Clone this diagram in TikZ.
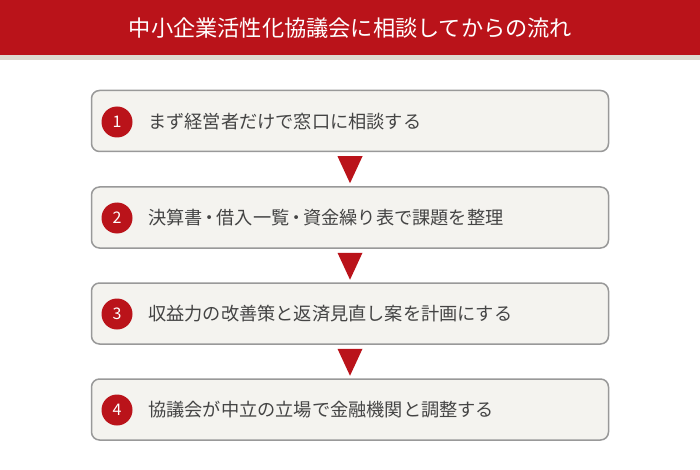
\documentclass[tikz,border=0pt]{standalone}
\usepackage{fontspec}
\setmainfont{Noto Sans CJK JP}
\usetikzlibrary{calc}
\definecolor{hdrred}{HTML}{BA131A}
\definecolor{hdrgray}{HTML}{DEDAD0}
\definecolor{boxfill}{HTML}{F4F3EF}
\definecolor{boxline}{HTML}{999999}
\definecolor{txtgray}{HTML}{444444}
\newcommand{\nd}{\hspace{-0.12em}・\hspace{-0.12em}}
\tikzset{
  stepbox/.style={draw=boxline, line width=1.5pt, fill=boxfill, rounded corners=8pt, minimum width=517pt, minimum height=61pt, inner sep=0pt},
  numdot/.style={circle, fill=hdrred, minimum size=31pt, inner sep=0pt, text=white, font=\fontsize{16}{16}\selectfont},
  steptext/.style={anchor=west, text=txtgray, font=\fontsize{18.2}{20}\selectfont, inner sep=0pt},
  tri/.style={fill=hdrred, draw=none}
}
\begin{document}
\begin{tikzpicture}[x=1pt,y=-1pt]
\useasboundingbox (0,0) rectangle (700,470);
\fill[white] (0,0) rectangle (700,470);
\fill[hdrred] (0,0) rectangle (700,55);
\fill[hdrgray] (0,55) rectangle (700,60.5);
\node[text=white, font=\fontsize{22.2}{24}\selectfont, inner sep=0pt] (title) at (350.5,28) {中小企業活性化協議会に相談してからの流れ};
\node[stepbox] (b1) at (350,121) {};
\node[stepbox] (b2) at (350,217.5) {};
\node[stepbox] (b3) at (350,313.5) {};
\node[stepbox] (b4) at (350,409.5) {};
\node[numdot] (n1) at (117,122) {1};
\node[numdot] (n2) at (117,218) {2};
\node[numdot] (n3) at (117,314) {3};
\node[numdot] (n4) at (117,410) {4};
\node[steptext] (t1) at (148,122) {まず経営者だけで窓口に相談する};
\node[steptext] (t2) at (148,218) {決算書\nd 借入一覧\nd 資金繰り表で課題を整理};
\node[steptext] (t3) at (148,314) {収益力の改善策と返済見直し案を計画にする};
\node[steptext] (t4) at (148,410) {協議会が中立の立場で金融機関と調整する};
\foreach \a/\b in {b1/b2,b2/b3,b3/b4}{
  \fill[tri] ($(\a.south)+(-12.5,4)$) -- ($(\a.south)+(12.5,4)$) -- ($(\a.south)+(0,31)$) -- cycle;
}
\end{tikzpicture}
\end{document}
